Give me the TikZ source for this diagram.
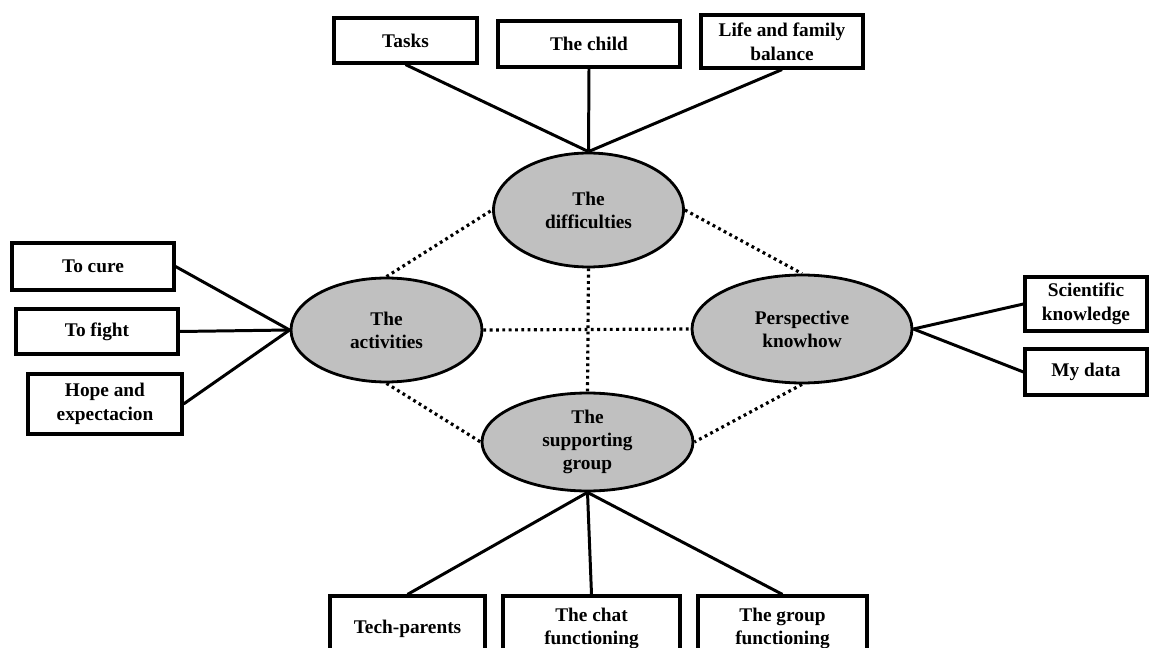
\documentclass[tikz,border=0pt]{standalone}
\usepackage{fontspec}
\setmainfont{Liberation Serif}
\usetikzlibrary{shapes.geometric}
\definecolor{themegray}{RGB}{192,192,192}
\begin{document}
\begin{tikzpicture}[
    x=0.02cm, y=-0.02cm,
    topic/.style={ellipse, draw, line width=1.6pt, fill=themegray, inner sep=0pt, align=center, font=\fontsize{11}{13}\selectfont\bfseries},
    item/.style={rectangle, draw, line width=1.8pt, fill=white, inner sep=0pt, align=center, font=\fontsize{11}{13.5}\selectfont\bfseries},
    link/.style={line width=1.7pt},
    relation/.style={line width=1.8pt, dash pattern=on 1.6pt off 2pt}
]
    \useasboundingbox (0,0) rectangle (1149,648);
    \clip (0,0) rectangle (1149,648);

    % Four central themes
    \node[topic, minimum width=3.8cm, minimum height=2.28cm] (diff) at (588.5, 210) {The\\difficulties};
    \node[topic, minimum width=3.82cm, minimum height=2.08cm] (act) at (386.5, 330) {The\\activities};
    \node[topic, minimum width=4.4cm, minimum height=2.16cm] (persp) at (802, 329) {Perspective\\knowhow};
    \node[topic, minimum width=4.22cm, minimum height=1.96cm] (supp) at (587.5, 442) {The\\supporting\\group};

    % Dotted relations between themes
    \draw[relation] (act.north) -- (diff.west);
    \draw[relation] (diff.east) -- (persp.north);
    \draw[relation] (act.south) -- (supp.west);
    \draw[relation] (persp.south) -- (supp.east);
    \draw[relation] (act.east) -- (persp.west);
    \draw[relation] (diff.south) -- (supp.north);

    % Top: the difficulties
    \node[item, minimum width=2.86cm, minimum height=0.9cm] (tasks) at (405.5, 40.5) {Tasks};
    \node[item, minimum width=3.64cm, minimum height=0.92cm] (child) at (589, 44) {The child};
    \node[item, minimum width=3.24cm, minimum height=1.06cm] (life) at (782, 41.5) {Life and family\\balance};

    % Left: the activities
    \node[item, minimum width=3.24cm, minimum height=0.94cm] (cure) at (93, 266.5) {To cure};
    \node[item, minimum width=3.24cm, minimum height=0.9cm] (fight) at (97, 331.5) {To fight};
    \node[item, minimum width=3.08cm, minimum height=1.2cm] (hope) at (105, 404) {Hope and\\expectacion};

    % Right: perspective knowhow
    \node[item, minimum width=2.44cm, minimum height=1.08cm] (sci) at (1086, 304) {Scientific\\knowledge};
    \node[item, minimum width=2.44cm, minimum height=0.92cm] (mydata) at (1086, 372) {My data};

    % Bottom: the supporting group
    \node[item, minimum width=3.1cm, minimum height=1.3cm] (tech) at (407.5, 628.5) {Tech-parents};
    \node[item, minimum width=3.54cm, minimum height=1.3cm] (chat) at (591.5, 628.5) {The chat\\functioning};
    \node[item, minimum width=3.38cm, minimum height=1.3cm] (group) at (782.5, 628.5) {The group\\functioning};

    % Solid links
    \draw[link] (tasks.south) -- (diff.north);
    \draw[link] (child.south) -- (diff.north);
    \draw[link] (life.south) -- (diff.north);
    \draw[link] (cure.east) -- (act.west);
    \draw[link] (fight.east) -- (act.west);
    \draw[link] (hope.east) -- (act.west);
    \draw[link] (persp.east) -- (sci.west);
    \draw[link] (persp.east) -- (mydata.west);
    \draw[link] (supp.south) -- (tech.north);
    \draw[link] (supp.south) -- (chat.north);
    \draw[link] (supp.south) -- (group.north);
\end{tikzpicture}
\end{document}
